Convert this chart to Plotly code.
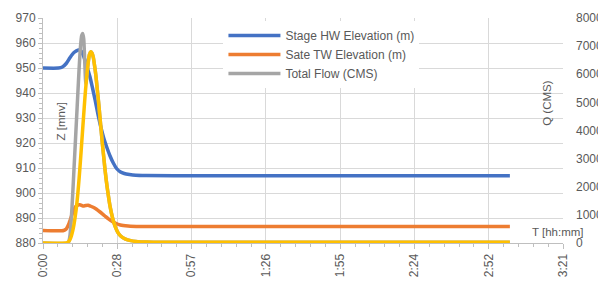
import plotly.graph_objects as go

# ---- data (time in minutes) ----
hw_t = [0, 6, 7.5, 9, 10.5, 12, 13.7, 14.6, 15.6, 16.9, 18.2, 19.2, 20.2, 21.4, 22.5, 23.6, 24.7, 26.0, 27.3, 28.6, 29.9, 31.5, 33.5, 36, 40, 60, 100, 140, 181]
hw_v = [950, 950, 950.4, 951.8, 954.2, 956.2, 957.2, 957.0, 955.2, 951.0, 946.5, 942.0, 937.2, 931.0, 926.0, 921.8, 918.4, 914.8, 911.9, 909.7, 908.5, 907.8, 907.4, 907.1, 907.0, 906.9, 906.9, 906.9, 906.9]

tw_t = [0, 8, 9, 10, 11, 12, 13, 14.3, 15.5, 16.5, 17.5, 18.5, 20, 22, 24, 26, 28, 30, 33, 37.6, 50, 100, 181]
tw_v = [885, 885, 885.6, 887.6, 890.6, 893.4, 894.9, 895.3, 894.8, 895.0, 895.1, 894.7, 894.0, 892.5, 890.8, 889.2, 888.0, 887.2, 886.8, 886.6, 886.6, 886.6, 886.6]

flow_t = [0, 9.5, 10, 10.5, 11, 11.5, 12, 12.5, 13, 13.5, 14, 14.5, 15, 15.4, 15.8, 16.2, 16.6, 17, 17.5, 18, 18.5, 19, 19.5, 20, 20.5, 21, 21.5, 22, 22.5, 23, 23.5, 24, 24.5, 25, 26, 27, 28, 29, 30, 32, 34, 36, 38, 40, 45, 60, 181]
flow_q = [0, 0, 50, 300, 900, 1700, 2600, 3500, 4400, 5300, 6200, 6950, 7380, 7450, 7250, 6400, 5650, 5950, 6400, 6700, 6800, 6750, 6600, 6300, 5950, 5500, 5050, 4550, 4050, 3550, 3100, 2650, 2250, 1900, 1300, 880, 580, 380, 260, 140, 85, 55, 40, 32, 27, 25, 25]

spill_t = [0, 9, 9.5, 10, 10.5, 11, 11.5, 12, 12.5, 13, 13.5, 14, 14.5, 15, 15.5, 16, 16.5, 17, 17.5, 18, 18.5, 19, 19.5, 20, 20.5, 21, 21.5, 22, 22.5, 23, 23.5, 24, 24.5, 25, 26, 27, 28, 29, 30, 32, 34, 36, 38, 40, 45, 60, 181]
spill_q = [0, 0, 20, 60, 130, 250, 420, 650, 950, 1300, 1750, 2300, 2900, 3550, 4200, 4850, 5450, 5950, 6400, 6700, 6800, 6750, 6600, 6300, 5950, 5500, 5050, 4550, 4050, 3550, 3100, 2650, 2250, 1900, 1300, 880, 580, 380, 260, 140, 85, 55, 40, 32, 27, 25, 25]

x_tick_labels = ["0:00", "0:28", "0:57", "1:26", "1:55", "2:24", "2:52", "3:21"]
x_major_step = 28.8  # minutes (0.02 day)
left_ticks = [880, 890, 900, 910, 920, 930, 940, 950, 960, 970]
right_ticks = [0, 1000, 2000, 3000, 4000, 5000, 6000, 7000, 8000]

names = ["Stage HW Elevation (m)", "Sate TW Elevation (m)", "Total Flow (CMS)", "Spill Flow (CMS)"]
colors = ["#4472C4", "#ED7D31", "#A5A5A5", "#FFC000"]

FONT = "Liberation Sans, Arial, sans-serif"
TXT = "#595959"
GRID = "#D9D9D9"
AX = "#BFBFBF"

x_tickvals = [i * x_major_step for i in range(len(x_tick_labels))]
x_minor = [i * x_major_step / 5 for i in range(5 * (len(x_tick_labels) - 1) + 1)]

fig = go.Figure()
line_kw = dict(shape="spline", smoothing=0.6)
fig.add_trace(go.Scatter(x=hw_t, y=hw_v, name=names[0], mode="lines",
                         line=dict(color=colors[0], width=3.5, **line_kw), yaxis="y"))
fig.add_trace(go.Scatter(x=tw_t, y=tw_v, name=names[1], mode="lines",
                         line=dict(color=colors[1], width=3.5, **line_kw), yaxis="y"))
fig.add_trace(go.Scatter(x=flow_t, y=flow_q, name=names[2], mode="lines",
                         line=dict(color=colors[2], width=3.5, **line_kw), yaxis="y2"))
fig.add_trace(go.Scatter(x=spill_t, y=spill_q, name=names[3], mode="lines", showlegend=False,
                         line=dict(color=colors[3], width=3.5, **line_kw), yaxis="y2"))

# page body has an 8px margin, so the figure is 8px smaller and margins shifted
fig.update_layout(
    width=598, height=274,
    margin=dict(l=35, r=43, t=10, b=39, autoexpand=False),
    paper_bgcolor="white", plot_bgcolor="white",
    font=dict(family=FONT, size=11, color=TXT),
    xaxis=dict(range=[0, x_tickvals[-1]], tickmode="array", tickvals=x_tickvals, ticktext=x_tick_labels,
               tickangle=-90, showgrid=True, gridcolor=GRID, gridwidth=1, automargin=False,
               showline=True, linecolor=AX, linewidth=1, ticks="outside", ticklen=5, tickcolor=AX,
               minor=dict(tickvals=x_minor, ticks="outside", ticklen=3, tickcolor=AX, showgrid=False),
               tickfont=dict(size=12, color=TXT), zeroline=False),
    yaxis=dict(range=[880, 970], tickmode="array", tickvals=left_ticks, automargin=False,
               showgrid=True, gridcolor=GRID, gridwidth=1,
               showline=True, linecolor=AX, linewidth=1, ticks="outside", ticklen=4, tickcolor=AX,
               minor=dict(dtick=2, tick0=880, ticks="outside", ticklen=3, tickcolor=AX, showgrid=False),
               tickfont=dict(size=12, color=TXT), zeroline=False),
    yaxis2=dict(range=[0, 8000], overlaying="y", side="right", tickmode="array", tickvals=right_ticks,
                showgrid=False, showline=False, ticks="", ticklabelstandoff=12, automargin=False,
                tickfont=dict(size=12, color=TXT), zeroline=False),
    legend=dict(x=0.347, y=0.987, xanchor="left", yanchor="top", bgcolor="white",
                font=dict(size=12, color=TXT), itemwidth=52, tracegroupgap=0),
    showlegend=True,
    annotations=[
        dict(text="Z [mnv]", x=0.034, y=0.539, xref="paper", yref="paper", textangle=-90,
             showarrow=False, font=dict(size=11.5, color=TXT), xanchor="center", yanchor="middle"),
        dict(text="Q (CMS)", x=0.9687, y=0.622, xref="paper", yref="paper", textangle=-90,
             showarrow=False, font=dict(size=11.5, color=TXT), xanchor="center", yanchor="middle"),
        dict(text="T [hh:mm]", x=0.990, y=0.05, xref="paper", yref="paper",
             showarrow=False, font=dict(size=11.5, color=TXT), xanchor="center", yanchor="middle"),
    ],
)

fig.write_html("out.html")
